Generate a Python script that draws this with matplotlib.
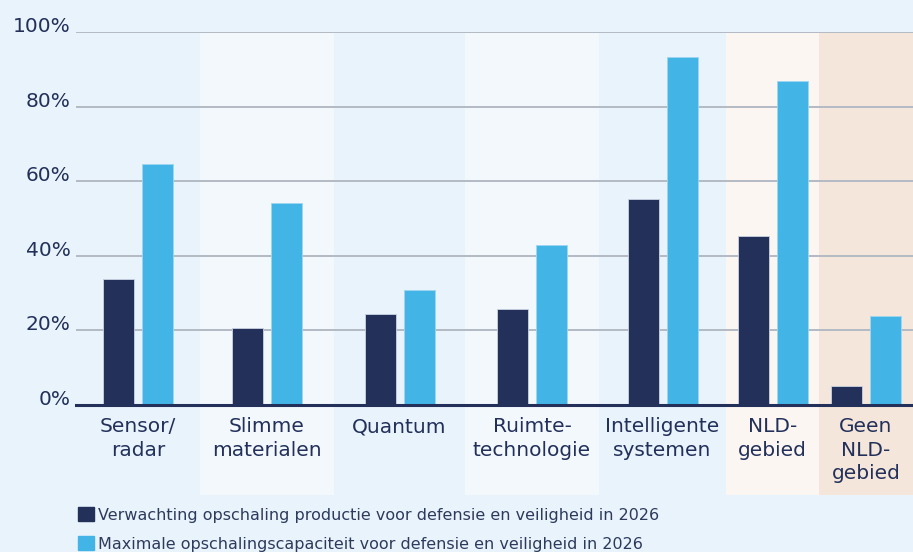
import numpy as np
import matplotlib
matplotlib.use("Agg")
import matplotlib.pyplot as plt
from matplotlib.patches import Patch

# data
categories = ["Sensor/\nradar", "Slimme\nmaterialen", "Quantum", "Ruimte-\ntechnologie",
              "Intelligente\nsystemen", "NLD-\ngebied", "Geen\nNLD-\ngebied"]
verwachting = [33.8, 20.6, 24.4, 25.7, 55.2, 45.3, 5.1]
maximaal = [64.6, 54.2, 30.8, 42.9, 93.3, 86.9, 23.9]
series_labels = ["Verwachting opschaling productie voor defensie en veiligheid in 2026",
                 "Maximale opschalingscapaciteit voor defensie en veiligheid in 2026"]
y_ticks = [0, 20, 40, 60, 80, 100]

# layout / styling
band_widths = [1.24, 1.34, 1.31, 1.34, 1.27, 0.93, 0.94]
band_colors = ["#E8F3FC", "#F3F8FD", "#E8F3FC", "#F3F8FD", "#E8F3FC", "#FBF6F2", "#F4E6DA"]
navy = "#22305A"
light = "#42B4E6"
bg = "#E8F3FC"

edges = np.concatenate([[0], np.cumsum(band_widths)])
centers = (edges[:-1] + edges[1:]) / 2

fig = plt.figure(figsize=(9.13, 5.52), dpi=100, facecolor=bg)
ax = fig.add_axes([76 / 913, (552 - 405) / 552, 837 / 913, 373 / 552])
ax.set_facecolor(bg)

# background bands (reach down behind the category labels)
for i in range(len(categories)):
    ax.axvspan(edges[i], edges[i + 1], ymin=-0.241, ymax=1.0, color=band_colors[i],
               lw=0, zorder=0, clip_on=False)

bw = 0.31
off = 0.195
ax.bar(centers - off, verwachting, width=bw, color=navy, zorder=3,
       edgecolor="#C9D3E3", linewidth=0.6)
ax.bar(centers + off, maximaal, width=bw, color=light, zorder=3,
       edgecolor="#9FD6F0", linewidth=0.6)

ax.set_xlim(edges[0], edges[-1])
ax.set_ylim(0, 100)

for v in y_ticks[1:]:
    ax.axhline(v, color="#B4BAC4", lw=1.4, zorder=1)
ax.axhline(0, color=navy, lw=2.2, zorder=4, clip_on=False)

for s in ax.spines.values():
    s.set_visible(False)

ax.set_yticks(y_ticks)
ax.set_yticklabels([f"{v}%" for v in y_ticks], fontsize=14.5, color=navy)
for lab in ax.get_yticklabels():
    lab.set_verticalalignment("baseline")
ax.tick_params(axis="y", length=0, pad=4)

ax.set_xticks(centers)
ax.set_xticklabels(categories, fontsize=14.5, color=navy, linespacing=1.27)
ax.tick_params(axis="x", length=0, pad=9)

handles = [Patch(facecolor=navy, edgecolor=navy), Patch(facecolor=light, edgecolor=light)]
fig.legend(handles, series_labels, loc="upper left", bbox_to_anchor=(72 / 913, 1 - 501 / 552),
           frameon=False, fontsize=11.5, labelcolor="#2E3A5C", handlelength=0.95,
           handleheight=0.95, handletextpad=0.3, labelspacing=0.85, borderaxespad=0)

fig.savefig("out.png", dpi=100, facecolor=bg)
